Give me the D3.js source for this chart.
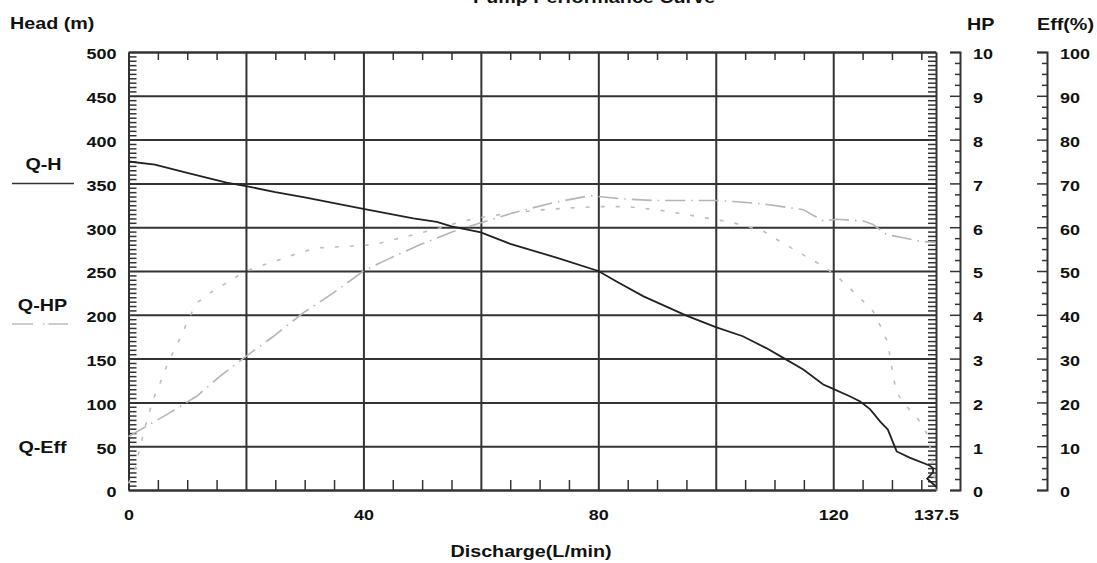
<!DOCTYPE html>
<html>
<head>
<meta charset="utf-8">
<script src="https://cdn.jsdelivr.net/npm/d3@7"></script>
<style>
  body { margin: 0; background: #fff; }
  svg text { font-family: "Liberation Sans", Arial, sans-serif; font-weight: bold; fill: #111; }
  .axis path, .axis line { stroke: #333; }
</style>
</head>
<body>
<div id="chart"></div>
<script>
// Q-H curve (head in m)
var headQ = [0, 4.5, 10, 16.7, 20, 25, 30, 40, 48.5, 52.5, 55, 60, 65, 73, 80, 83.1, 87.7, 95, 100, 104.6, 108.6, 111.2, 114.9, 118.3, 120, 122.8, 124.6, 126.3, 128, 129.3, 130.8, 133, 136.4, 137, 137, 136, 137.5];
var headH = [375, 371.5, 362, 351, 347, 340, 334, 321, 310, 306, 301, 294, 281, 265, 250, 238, 221, 199, 186, 175.5, 162, 152, 137.5, 120.4, 115.5, 107, 101, 92, 78, 69, 44, 37, 28, 25, 20, 13, 4];

// Q-HP curve
var hpQ = [0, 6.5, 11.6, 15.6, 20, 24.7, 29.8, 34.9, 40, 44, 49.6, 55.3, 60, 65.6, 72.3, 78.6, 80, 83.7, 89.4, 100, 103.6, 108.1, 114.9, 118.3, 120.6, 125.1, 126.8, 129.1, 131.9, 134.8, 137.5];
var hpV = [1.22, 1.72, 2.14, 2.6, 3.05, 3.51, 4.05, 4.5, 5.0, 5.26, 5.6, 5.9, 6.1, 6.33, 6.56, 6.72, 6.7, 6.65, 6.61, 6.61, 6.58, 6.53, 6.4, 6.14, 6.18, 6.14, 6.06, 5.83, 5.76, 5.68, 5.65];

// Q-Eff curve (%)
var effQ = [0, 0.6, 1.1, 2, 3.4, 4.3, 5.4, 6.5, 7.7, 9.1, 10.2, 11.6, 13.9, 16.2, 19, 21.3, 24.7, 29.8, 32.6, 38.3, 41.7, 47.4, 53, 57, 61.6, 69.5, 75.2, 80, 84.8, 90.5, 96.7, 102.4, 105.3, 108.1, 110.4, 113.2, 115.5, 118.3, 120.6, 122.6, 124.8, 126.8, 128.2, 129.3, 130.2, 130.8, 132.5, 134.5, 136.2, 137, 137.5];
var effV = [1.5, 3, 4.7, 10, 17.2, 21, 24.5, 28.3, 31.7, 35.5, 39, 42.7, 45, 46.9, 49.2, 50.7, 52.1, 54.5, 55.3, 55.7, 56, 57.9, 59.8, 61.4, 62.6, 63.9, 64.4, 64.7, 64.7, 63.9, 62.5, 61.2, 60.2, 59.1, 57.2, 55, 53.2, 51.1, 48.8, 46.4, 43.5, 40.8, 37, 33.6, 26, 22.2, 19.1, 16.1, 12.3, 5.4, 0];

var xLabels = [0, 40, 80, 120, 137.5];
var headTicks = d3.range(0, 501, 50);
var hpTicks = d3.range(0, 11, 1);
var effTicks = d3.range(0, 101, 10);

var width = 1097, height = 563,
    plotLeft = 128.5, plotRight = 936, plotTop = 52, plotBottom = 490,
    hpAxisX = 960, effAxisX = 1047,
    stretch = 1.16;

var svg = d3.select("#chart").append("svg")
    .attr("width", width)
    .attr("height", height);

var x = d3.scaleLinear().domain([0, 137.5]).range([plotLeft, plotRight]),
    yHead = d3.scaleLinear().domain([0, 500]).range([plotBottom, plotTop]),
    yHp = d3.scaleLinear().domain([0, 10]).range([plotBottom, plotTop]),
    yEff = d3.scaleLinear().domain([0, 100]).range([plotBottom, plotTop]);

// widen text a bit, the original lettering is stretched horizontally
var widen = function (sel) {
    sel.each(function () {
        var w = this.getComputedTextLength();
        d3.select(this).attr("textLength", w * stretch).attr("lengthAdjust", "spacingAndGlyphs");
    });
};

// grid lines
svg.append("g").attr("class", "axis")
    .attr("transform", "translate(" + plotLeft + ",0)")
    .call(d3.axisLeft(yHead).tickValues(headTicks).tickSize(-(plotRight - plotLeft)).tickFormat(""))
    .call(function (g) { g.select(".domain").remove(); g.selectAll("line").attr("stroke-width", 2); });

svg.append("g").attr("class", "axis")
    .attr("transform", "translate(0," + plotBottom + ")")
    .call(d3.axisBottom(x).tickValues(d3.range(20, 121, 20)).tickSize(-(plotBottom - plotTop)).tickFormat(""))
    .call(function (g) { g.select(".domain").remove(); g.selectAll("line").attr("stroke-width", 2); });

// minor ticks inside the frame
var minorQ = d3.range(5, 137, 5).filter(function (d) { return d % 20 !== 0; });
var minorH = d3.range(5, 500, 5).filter(function (d) { return d % 50 !== 0; });

svg.append("g").attr("class", "axis")
    .attr("transform", "translate(0," + plotBottom + ")")
    .call(d3.axisBottom(x).tickValues(minorQ).tickSize(-10).tickSizeOuter(0).tickFormat(""))
    .call(function (g) { g.select(".domain").attr("stroke-width", 2); g.selectAll("line").attr("stroke-width", 1.5); });

svg.append("g").attr("class", "axis")
    .attr("transform", "translate(0," + plotTop + ")")
    .call(d3.axisTop(x).tickValues(minorQ).tickSize(-8).tickSizeOuter(0).tickFormat(""))
    .call(function (g) { g.select(".domain").attr("stroke-width", 2); g.selectAll("line").attr("stroke-width", 1.5); });

svg.append("g").attr("class", "axis")
    .attr("transform", "translate(" + plotLeft + ",0)")
    .call(d3.axisRight(yHead).tickValues(minorH).tickSize(8).tickSizeOuter(0).tickFormat(""))
    .call(function (g) { g.select(".domain").attr("stroke-width", 2); g.selectAll("line").attr("stroke-width", 1.5); });

svg.append("g").attr("class", "axis")
    .attr("transform", "translate(" + plotRight + ",0)")
    .call(d3.axisLeft(yHead).tickValues(minorH).tickSize(8).tickSizeOuter(0).tickFormat(""))
    .call(function (g) { g.select(".domain").attr("stroke-width", 2); g.selectAll("line").attr("stroke-width", 1.5); });

// tick labels
svg.append("g").attr("class", "axis")
    .attr("transform", "translate(" + plotLeft + ",0)")
    .call(d3.axisLeft(yHead).tickValues(headTicks).tickSize(0).tickPadding(12))
    .call(function (g) { g.select(".domain").remove(); })
    .selectAll("text").attr("font-size", 15.5).attr("dy", "0.45em").call(widen);

svg.append("g").attr("class", "axis")
    .attr("transform", "translate(0," + plotBottom + ")")
    .call(d3.axisBottom(x).tickValues(xLabels).tickSize(0).tickPadding(19).tickFormat(function (d) { return d; }))
    .call(function (g) { g.select(".domain").remove(); })
    .selectAll("text").attr("font-size", 15.5).call(widen);

// HP axis
svg.append("g").attr("class", "axis")
    .attr("transform", "translate(" + hpAxisX + ",0)")
    .call(d3.axisLeft(yHp).tickValues(d3.range(0, 10.01, 0.25).filter(function (d) { return d % 1 !== 0; })).tickSize(5).tickSizeOuter(10).tickFormat(""))
    .call(function (g) { g.select(".domain").attr("stroke-width", 2); g.selectAll("line").attr("stroke-width", 1.5); });
svg.append("g").attr("class", "axis")
    .attr("transform", "translate(" + hpAxisX + ",0)")
    .call(d3.axisLeft(yHp).tickValues(hpTicks).tickSize(10).tickFormat(""))
    .call(function (g) { g.select(".domain").remove(); g.selectAll("line").attr("stroke-width", 1.5); });
svg.append("g").attr("class", "axis")
    .attr("transform", "translate(" + hpAxisX + ",0)")
    .call(d3.axisRight(yHp).tickValues(hpTicks).tickSize(0).tickPadding(13))
    .call(function (g) { g.select(".domain").remove(); })
    .selectAll("text").attr("font-size", 15.5).attr("dy", "0.45em").call(widen);

// Eff axis
svg.append("g").attr("class", "axis")
    .attr("transform", "translate(" + effAxisX + ",0)")
    .call(d3.axisLeft(yEff).tickValues(d3.range(0, 100.1, 2.5).filter(function (d) { return d % 10 !== 0; })).tickSize(5).tickSizeOuter(10).tickFormat(""))
    .call(function (g) { g.select(".domain").attr("stroke-width", 2); g.selectAll("line").attr("stroke-width", 1.5); });
svg.append("g").attr("class", "axis")
    .attr("transform", "translate(" + effAxisX + ",0)")
    .call(d3.axisLeft(yEff).tickValues(effTicks).tickSize(10).tickFormat(""))
    .call(function (g) { g.select(".domain").remove(); g.selectAll("line").attr("stroke-width", 1.5); });
svg.append("g").attr("class", "axis")
    .attr("transform", "translate(" + effAxisX + ",0)")
    .call(d3.axisRight(yEff).tickValues(effTicks).tickSize(0).tickPadding(13))
    .call(function (g) { g.select(".domain").remove(); })
    .selectAll("text").attr("font-size", 15.5).attr("dy", "0.45em").call(widen);

// curves
var hpLine = d3.line()
    .x(function (d, i) { return x(hpQ[i]); })
    .y(function (d) { return yHp(d); });
svg.append("path")
    .attr("d", hpLine(hpV))
    .attr("fill", "none").attr("stroke", "#b5b5b5").attr("stroke-width", 1.6)
    .attr("stroke-dasharray", "20,6,1.5,6");

var effLine = d3.line()
    .x(function (d, i) { return x(effQ[i]); })
    .y(function (d) { return yEff(d); });
svg.append("path")
    .attr("d", effLine(effV))
    .attr("fill", "none").attr("stroke", "#bdbdbd").attr("stroke-width", 1.6)
    .attr("stroke-dasharray", "4,11");

var headLine = d3.line()
    .x(function (d, i) { return x(headQ[i]); })
    .y(function (d) { return yHead(d); });
svg.append("path")
    .attr("d", headLine(headH))
    .attr("fill", "none").attr("stroke", "#222").attr("stroke-width", 1.8);

// titles
var label = function (txt, tx, ty, size, anchor) {
    svg.append("text")
        .attr("x", tx).attr("y", ty)
        .attr("font-size", size)
        .attr("text-anchor", anchor || "start")
        .text(txt)
        .call(widen);
};
label("Pump Performance Curve", 473, 3, 17);
label("Head (m)", 10, 29, 17);
label("HP", 967, 30, 17);
label("Eff(%)", 1037, 30, 17);
label("Discharge(L/min)", 531, 557, 17, "middle");

// legend
label("Q-H", 43.5, 170, 17, "middle");
svg.append("line").attr("x1", 12).attr("x2", 74).attr("y1", 183.5).attr("y2", 183.5)
    .attr("stroke", "#333").attr("stroke-width", 1.6);
label("Q-HP", 42.5, 311, 17, "middle");
svg.append("line").attr("x1", 12).attr("x2", 68).attr("y1", 324).attr("y2", 324)
    .attr("stroke", "#bbb").attr("stroke-width", 1.6)
    .attr("stroke-dasharray", "21,10,1.5,4");
label("Q-Eff", 42.5, 453, 17, "middle");
</script>
</body>
</html>
